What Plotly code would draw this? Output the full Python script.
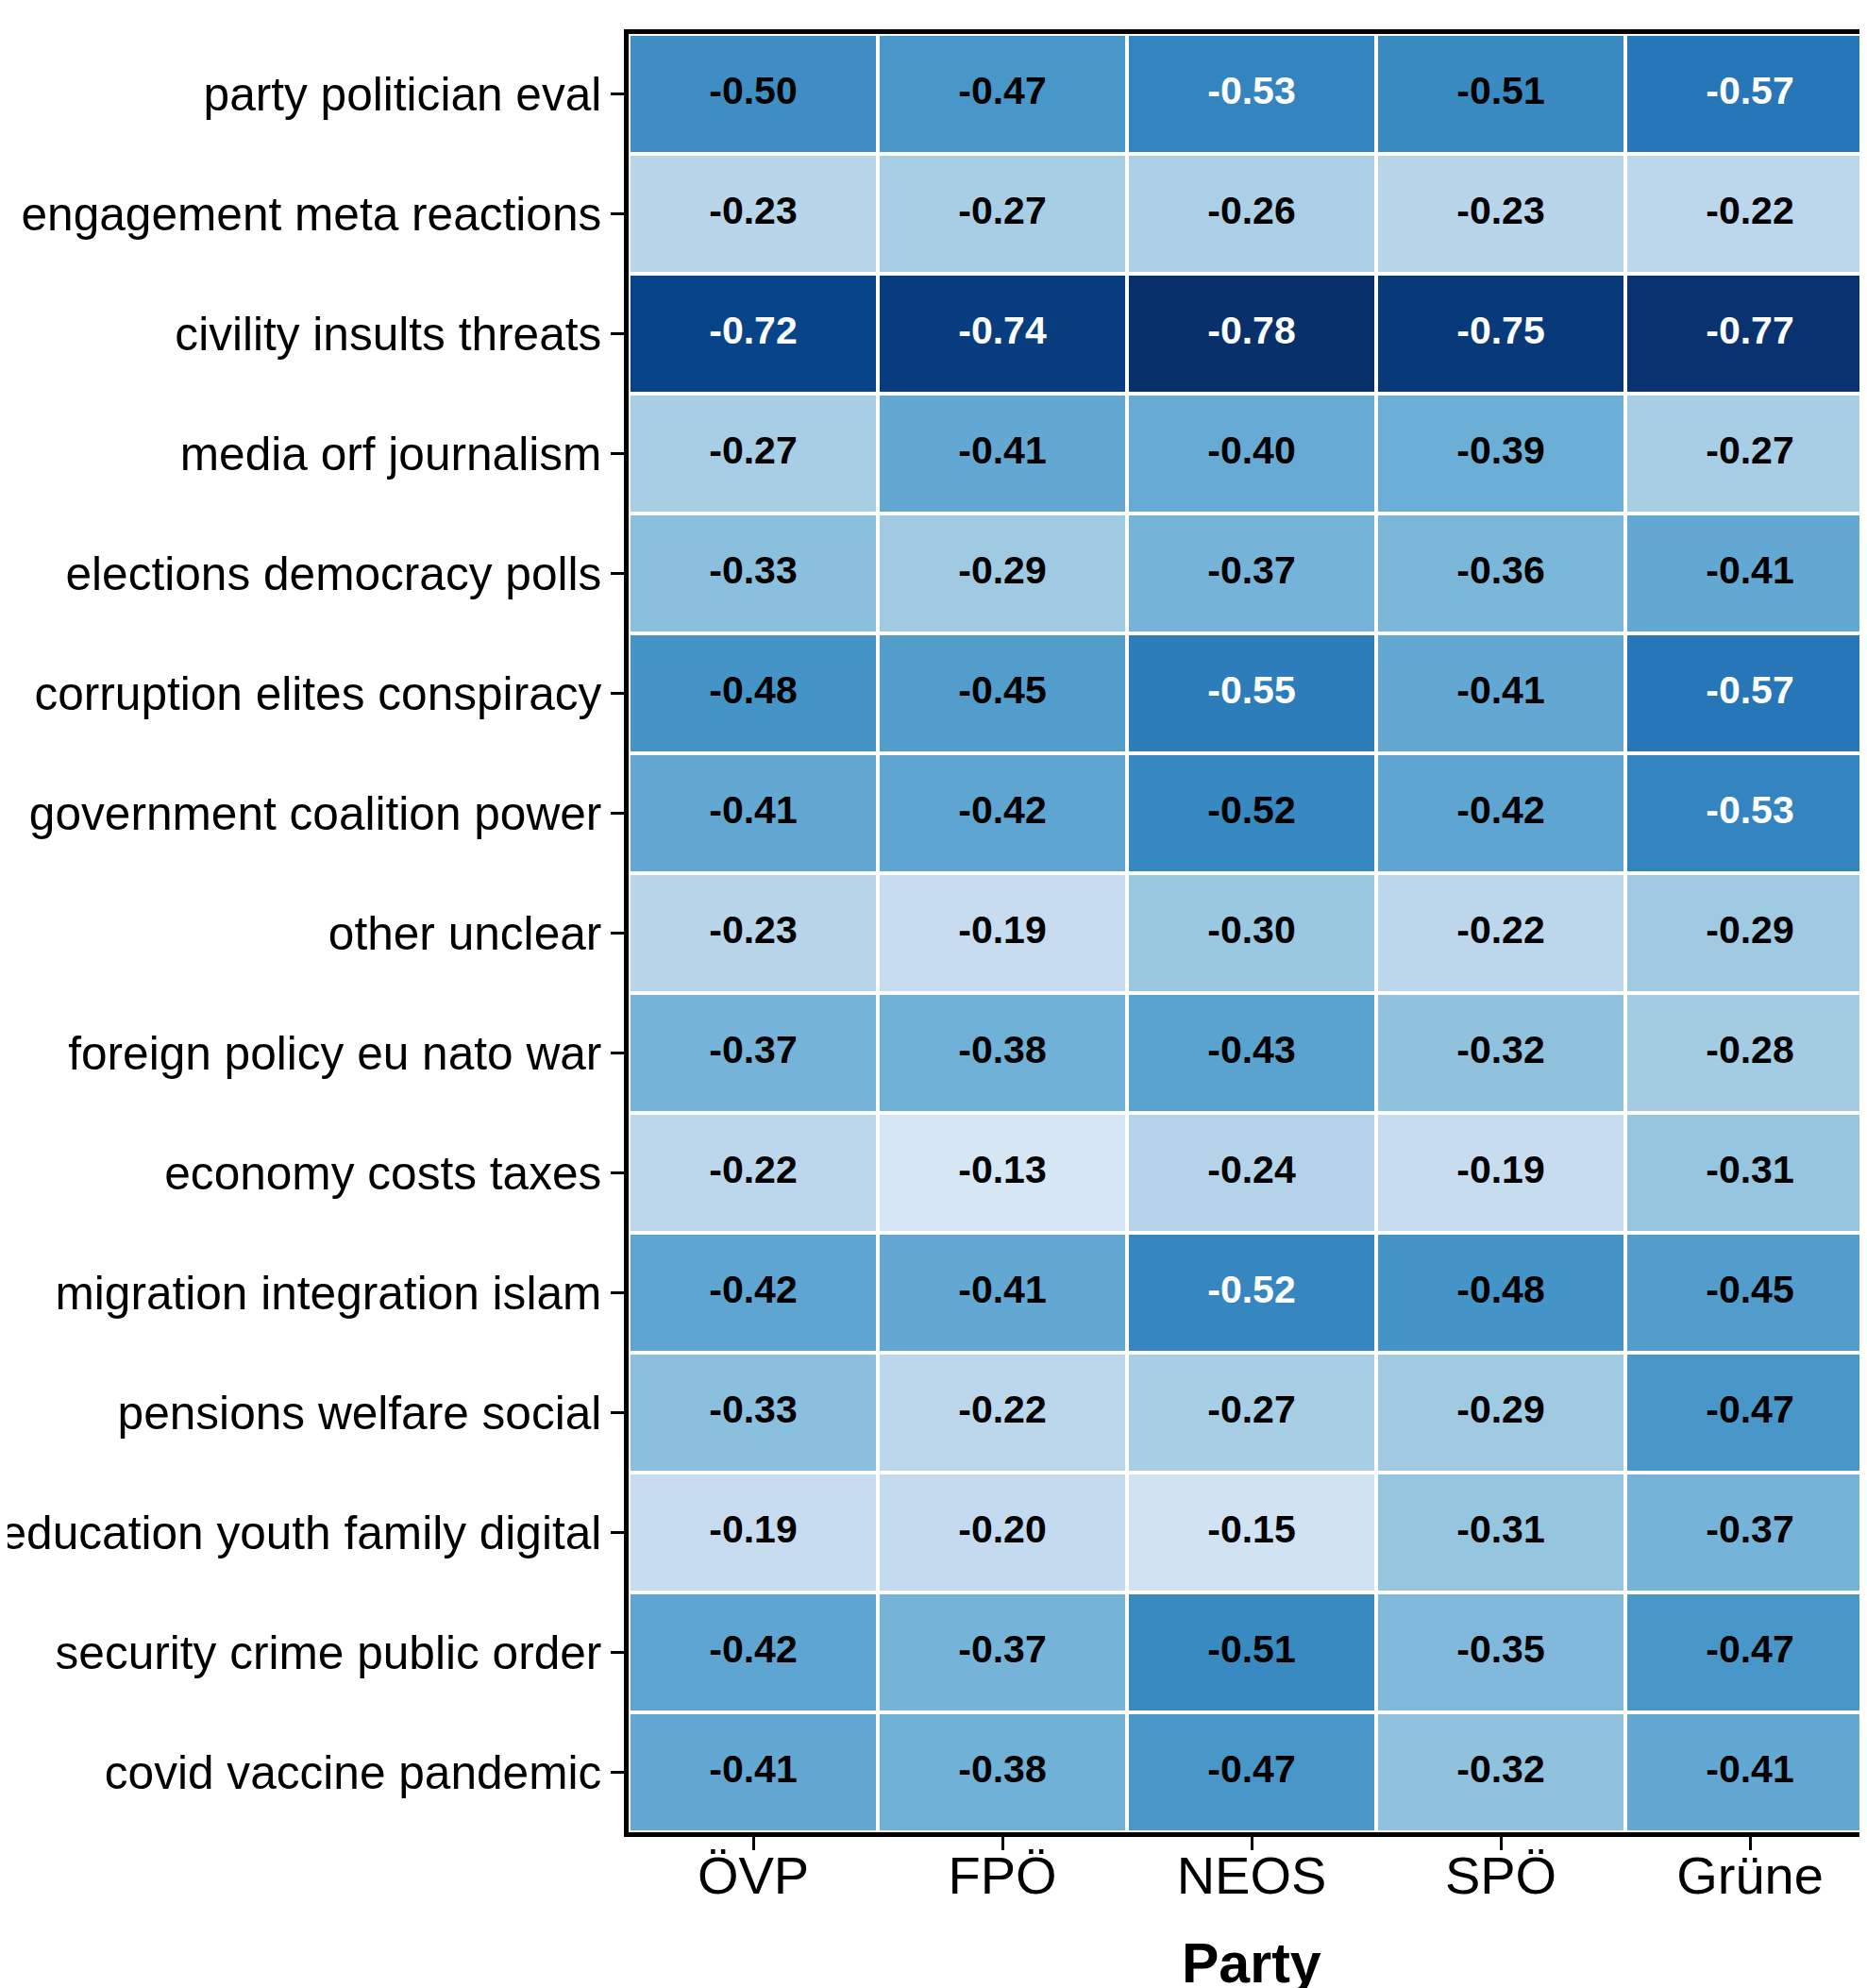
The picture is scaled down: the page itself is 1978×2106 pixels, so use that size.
import plotly.graph_objects as go
import plotly.colors as pc

# topics (top to bottom) and parties (left to right)
TOPICS = [
    "party politician eval",
    "engagement meta reactions",
    "civility insults threats",
    "media orf journalism",
    "elections democracy polls",
    "corruption elites conspiracy",
    "government coalition power",
    "other unclear",
    "foreign policy eu nato war",
    "economy costs taxes",
    "migration integration islam",
    "pensions welfare social",
    "education youth family digital",
    "security crime public order",
    "covid vaccine pandemic",
]
PARTIES = ["ÖVP", "FPÖ", "NEOS", "SPÖ", "Grüne"]

# values per party, same order as TOPICS
OVP = [-0.50, -0.23, -0.72, -0.27, -0.33, -0.48, -0.41, -0.23, -0.37, -0.22, -0.42, -0.33, -0.19, -0.42, -0.41]
FPO = [-0.47, -0.27, -0.74, -0.41, -0.29, -0.45, -0.42, -0.19, -0.38, -0.13, -0.41, -0.22, -0.20, -0.37, -0.38]
NEOS = [-0.53, -0.26, -0.78, -0.40, -0.37, -0.55, -0.516, -0.30, -0.43, -0.24, -0.524, -0.27, -0.15, -0.51, -0.47]
SPO = [-0.51, -0.23, -0.75, -0.39, -0.36, -0.41, -0.42, -0.22, -0.32, -0.19, -0.48, -0.29, -0.31, -0.35, -0.32]
GRUENE = [-0.57, -0.22, -0.77, -0.27, -0.41, -0.57, -0.53, -0.29, -0.28, -0.31, -0.45, -0.47, -0.37, -0.47, -0.41]

FONT = "Liberation Sans, Arial, sans-serif"

columns = [OVP, FPO, NEOS, SPO, GRUENE]
z = [[col[i] for col in columns] for i in range(len(TOPICS))]

# reversed Blues: most negative = darkest
blues = pc.sequential.Blues[::-1]
colorscale = [[i / (len(blues) - 1), c] for i, c in enumerate(blues)]

heat = go.Heatmap(
    z=z,
    x=PARTIES,
    y=TOPICS,
    colorscale=colorscale,
    zmin=-0.78,
    zmax=0,
    xgap=4,
    ygap=4,
    showscale=False,
    hoverinfo="skip",
)

# cell labels, white on the dark cells
lx, ly, lt, lc = [], [], [], []
for i, topic in enumerate(TOPICS):
    for j, party in enumerate(PARTIES):
        v = z[i][j]
        lx.append(party)
        ly.append(topic)
        lt.append(f"{v:.2f}")
        lc.append("white" if v < -0.52 else "black")

labels = go.Scatter(
    x=lx,
    y=ly,
    text=lt,
    mode="text",
    textposition="middle center",
    textfont=dict(family=FONT, size=41, color=lc, weight="bold"),
    hoverinfo="skip",
    showlegend=False,
)

fig = go.Figure(data=[heat, labels])

fig.update_layout(
    width=1978,
    height=2106,
    margin=dict(l=658, r=0, t=28, b=173),
    paper_bgcolor="white",
    plot_bgcolor="white",
    font=dict(family=FONT, color="black"),
    showlegend=False,
)

fig.update_xaxes(
    showline=True,
    linecolor="black",
    linewidth=4.5,
    mirror=True,
    ticks="outside",
    ticklen=14,
    tickwidth=3,
    tickcolor="black",
    tickfont=dict(family=FONT, size=56, color="black"),
    ticklabelstandoff=-21,
    showgrid=False,
    zeroline=False,
    range=[-0.5, len(PARTIES) - 0.5],
    automargin=False,
)
fig.update_yaxes(
    showline=True,
    linecolor="black",
    linewidth=4.5,
    ticks="outside",
    ticklen=14,
    tickwidth=3,
    tickcolor="black",
    tickfont=dict(family=FONT, size=49.6, color="black"),
    ticklabelstandoff=0,
    showgrid=False,
    zeroline=False,
    range=[len(TOPICS) - 0.5, -0.5],
    automargin=False,
)

fig.add_annotation(
    text="<b>Party</b>",
    xref="paper",
    yref="paper",
    x=0.5,
    y=0,
    yanchor="top",
    yshift=-104,
    showarrow=False,
    font=dict(family=FONT, size=59, color="black"),
)

fig.write_html("out.html")
